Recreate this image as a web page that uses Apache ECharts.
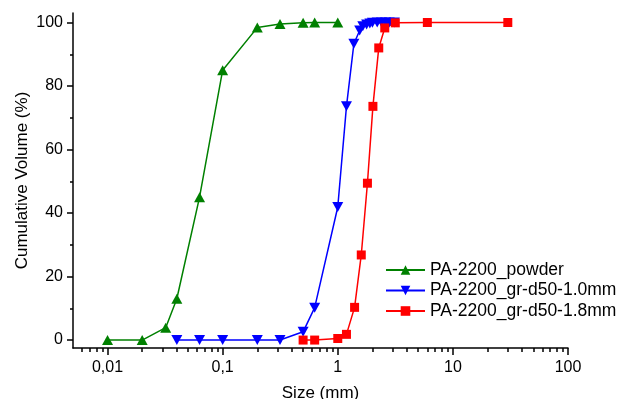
<!DOCTYPE html>
<html>
<head>
<meta charset="utf-8">
<script src="https://cdn.jsdelivr.net/npm/echarts@6/dist/echarts.min.js"></script>
<style>
  html, body { margin: 0; padding: 0; background: #fff; }
  #chart { width: 620px; height: 399px; }
</style>
</head>
<body>
<div id="chart"></div>
<script>
// 粒径 (mm) 与累计体积 (%)
const powderSize = [0.01, 0.02, 0.032, 0.04, 0.063, 0.1, 0.2, 0.315, 0.5, 0.63, 1]
const powderVol = [0, 0, 3.9, 13, 45, 85, 98.4, 99.5, 99.9, 100, 100]

const gr10Size = [0.04, 0.063, 0.1, 0.2, 0.315, 0.5, 0.63, 1, 1.19, 1.38, 1.55, 1.65, 1.78, 1.9, 2.0, 2.2, 2.4, 2.6, 2.8, 3.1]
const gr10Vol = [0, 0, 0, 0, 0, 2.6, 10.2, 41.9, 73.6, 93.3, 97.5, 98.8, 99.4, 99.7, 99.9, 100, 100, 100, 100, 100]

const gr18Size = [0.5, 0.63, 1, 1.19, 1.4, 1.6, 1.81, 2.02, 2.27, 2.56, 3.16, 6, 30]
const gr18Vol = [0, 0, 0.5, 1.8, 10.3, 26.8, 49.4, 73.6, 92, 98.3, 99.9, 100, 100]

const seriesNames = ['PA-2200_powder', 'PA-2200_gr-d50-1.0mm', 'PA-2200_gr-d50-1.8mm']

// 坐标轴刻度
const xTickExps = [-2, -1, 0, 1, 2]
const xTickLabels = ['0,01', '0,1', '1', '10', '100']
const yTicks = [0, 20, 40, 60, 80, 100]
const yMinorTicks = [10, 30, 50, 70, 90]

const X_MIN = -2.3
const X_MAX = 2
const Y_MIN = -2.5
const Y_MAX = 103

// 对数坐标的次刻度 2..9
const xMinorTicks = []
for (let d = -3; d <= 1; d++) {
  for (let k = 2; k <= 9; k++) {
    const v = Math.log10(k) + d
    if (v >= X_MIN && v <= X_MAX) xMinorTicks.push(v)
  }
}

const toPoints = (sizes, vols) => sizes.map((s, i) => [Math.log10(s), vols[i]])

const FONT = 'Liberation Sans, Arial, sans-serif'

const chart = echarts.init(document.getElementById('chart'))

const option = {
  animation: false,
  grid: { left: 73, right: 52, top: 13, bottom: 51, containLabel: false, outerBoundsMode: 'none' },
  legend: {
    orient: 'vertical',
    left: 385,
    top: 261,
    padding: 0,
    itemWidth: 39,
    itemHeight: 12,
    itemGap: 2.5,
    textStyle: { fontFamily: FONT, fontSize: 17.5, color: '#000', lineHeight: 16.5 },
    data: seriesNames
  },
  xAxis: [
    {
      type: 'value',
      min: X_MIN,
      max: X_MAX,
      name: 'Size (mm)',
      nameLocation: 'middle',
      nameGap: 37,
      nameMoveOverlap: false,
      nameTextStyle: { fontFamily: FONT, fontSize: 17, color: '#000' },
      axisLine: { show: true, onZero: false, lineStyle: { color: '#000', width: 1.5 } },
      axisTick: { show: true, length: 7, customValues: xTickExps, lineStyle: { color: '#000', width: 1.5 } },
      axisLabel: {
        customValues: xTickExps,
        fontFamily: FONT,
        fontSize: 16,
        color: '#000',
        margin: 12,
        formatter: v => xTickLabels[xTickExps.indexOf(Math.round(v))]
      },
      splitLine: { show: false }
    },
    {
      type: 'value',
      min: X_MIN,
      max: X_MAX,
      position: 'bottom',
      axisLine: { show: false, onZero: false },
      axisTick: { show: true, length: 4, customValues: xMinorTicks, lineStyle: { color: '#000', width: 1.5 } },
      axisLabel: { show: false },
      splitLine: { show: false }
    }
  ],
  yAxis: [
    {
      type: 'value',
      min: Y_MIN,
      max: Y_MAX,
      name: 'Cumulative Volume (%)',
      nameLocation: 'middle',
      nameGap: 42,
      nameMoveOverlap: false,
      nameTextStyle: { fontFamily: FONT, fontSize: 17, color: '#000' },
      axisLine: { show: true, onZero: false, lineStyle: { color: '#000', width: 1.5 } },
      axisTick: { show: true, length: 6, customValues: yTicks, lineStyle: { color: '#000', width: 1.5 } },
      axisLabel: { customValues: yTicks, fontFamily: FONT, fontSize: 16, color: '#000', margin: 10 },
      splitLine: { show: false }
    },
    {
      type: 'value',
      min: Y_MIN,
      max: Y_MAX,
      position: 'left',
      axisLine: { show: false, onZero: false },
      axisTick: { show: true, length: 3, customValues: yMinorTicks, lineStyle: { color: '#000', width: 1.5 } },
      axisLabel: { show: false },
      splitLine: { show: false }
    }
  ],
  series: [
    {
      name: seriesNames[0],
      type: 'line',
      data: toPoints(powderSize, powderVol),
      symbol: 'triangle',
      symbolSize: [11, 10],
      itemStyle: { color: '#008000' },
      lineStyle: { color: '#008000', width: 1.5 }
    },
    {
      name: seriesNames[1],
      type: 'line',
      data: toPoints(gr10Size, gr10Vol),
      symbol: 'triangle',
      symbolRotate: 180,
      symbolSize: [11, 10],
      itemStyle: { color: '#0000ff' },
      lineStyle: { color: '#0000ff', width: 1.5 }
    },
    {
      name: seriesNames[2],
      type: 'line',
      data: toPoints(gr18Size, gr18Vol),
      symbol: 'rect',
      symbolSize: 9,
      itemStyle: { color: '#ff0000' },
      lineStyle: { color: '#ff0000', width: 1.5 }
    }
  ]
}

chart.setOption(option)
</script>
</body>
</html>
